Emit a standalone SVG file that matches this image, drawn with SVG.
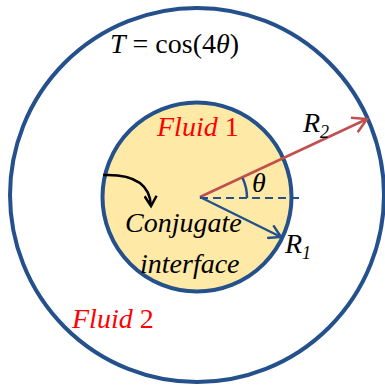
<svg xmlns="http://www.w3.org/2000/svg" width="385" height="386" viewBox="0 0 385 386">
<style>
text{font-family:'Liberation Serif',serif;font-size:28px;fill:#000}
.it{font-style:italic}
.red{fill:#FF0000}
.blue{stroke:#24508C;fill:none}
</style>
<defs>
<marker id="ab" markerWidth="16" markerHeight="16" refX="13" refY="8" orient="auto" markerUnits="userSpaceOnUse">
<path d="M1,1 L13,8 L1,15" fill="none" stroke="#24508C" stroke-width="2.5"/>
</marker>
<marker id="ar" markerWidth="18" markerHeight="18" refX="15" refY="9" orient="auto" markerUnits="userSpaceOnUse">
<path d="M1,1 L15,9 L1,17" fill="none" stroke="#C0504D" stroke-width="2.5"/>
</marker>
<marker id="ak" markerWidth="14" markerHeight="14" refX="11" refY="7" orient="auto" markerUnits="userSpaceOnUse">
<path d="M1,1 L11,7 L1,13" fill="none" stroke="#000" stroke-width="2.5"/>
</marker>
</defs>
<g id="outer">
<circle cx="197" cy="195" r="187" class="blue" stroke-width="4"/>
</g>
<g id="inner">
<circle cx="197" cy="197" r="94.5" fill="#FFE9A6" stroke="#24508C" stroke-width="4"/>
</g>
<g id="connectors">
<line x1="200" y1="198" x2="300" y2="198" class="blue" stroke-width="2" stroke-dasharray="8,5"/>
<line x1="200" y1="197" x2="367" y2="119" stroke="#C0504D" stroke-width="2.5" marker-end="url(#ar)"/>
<line x1="200" y1="197" x2="281" y2="237" class="blue" stroke-width="2.5" marker-end="url(#ab)"/>
<path d="M247,198 A47,47 0 0 0 242.6,178" class="blue" stroke-width="2.5"/>
<path d="M103,175 C130,174 150,182 151,206" fill="none" stroke="#000" stroke-width="2.5" marker-end="url(#ak)"/>
</g>
<g id="labels" font-family="Liberation Serif, serif">
<text x="110" y="53"><tspan class="it">T</tspan> = cos(4<tspan class="it">θ</tspan>)</text>
<text x="157" y="136" class="red"><tspan class="it">Fluid</tspan> 1</text>
<text x="72" y="328" class="red"><tspan class="it">Fluid</tspan> 2</text>
<text x="125" y="232" class="it">Conjugate</text>
<text x="140" y="273" class="it">interface</text>
<text x="252" y="192" class="it">θ</text>
<text x="303" y="132" class="it">R<tspan font-size="18" dy="6">2</tspan></text>
<text x="285" y="253" class="it">R<tspan font-size="18" dy="6">1</tspan></text>
</g>
</svg>
